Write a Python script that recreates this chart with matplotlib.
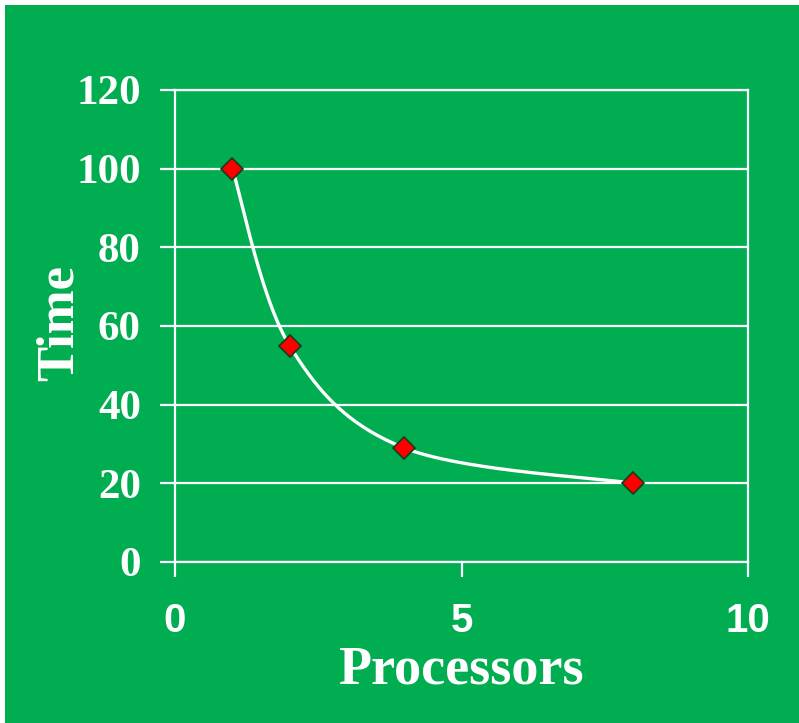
import numpy as np
import matplotlib
matplotlib.use("Agg")
import matplotlib.pyplot as plt

processors = [1, 2, 4, 8]
times = [100, 55, 29, 20]
y_ticks = [0, 20, 40, 60, 80, 100, 120]
x_ticks = [0, 5, 10]

GREEN = "#00AD50"

def excel_smooth(x, y, n=60):
    x = np.asarray(x, float); y = np.asarray(y, float)
    px = np.concatenate([[x[0]], x, [x[-1]]])
    py = np.concatenate([[y[0]], y, [y[-1]]])
    xs, ys = [], []
    t = np.linspace(0, 1, n)
    for i in range(1, len(px) - 2):
        p0 = np.array([px[i], py[i]]); p3 = np.array([px[i+1], py[i+1]])
        p1 = p0 + (np.array([px[i+1], py[i+1]]) - np.array([px[i-1], py[i-1]])) / 6
        p2 = p3 - (np.array([px[i+2], py[i+2]]) - np.array([px[i], py[i]])) / 6
        b = ((1-t)**3)[:, None]*p0 + (3*(1-t)**2*t)[:, None]*p1 + (3*(1-t)*t**2)[:, None]*p2 + (t**3)[:, None]*p3
        xs.extend(b[:, 0]); ys.extend(b[:, 1])
    return np.array(xs), np.array(ys)

fig = plt.figure(figsize=(7.99, 7.23), dpi=100)
fig.patch.set_facecolor("white")
bg = fig.add_axes([5/799, 0, 1 - 5/799, 1 - 5/723])
bg.set_facecolor(GREEN)
bg.set_xticks([]); bg.set_yticks([])
for s in bg.spines.values():
    s.set_visible(False)
bg.set_zorder(0)

ax = fig.add_axes([175/799, 1 - 562/723, (748-175)/799, (562-90)/723])
ax.set_facecolor("none")
ax.set_zorder(1)
ax.set_xlim(0, 10)
ax.set_ylim(0, 120)
ax.set_xticks(x_ticks)
ax.set_yticks(y_ticks)
ax.yaxis.grid(True, color="white", linewidth=1.6)
ax.set_axisbelow(True)
for s in ax.spines.values():
    s.set_color("white"); s.set_linewidth(1.6)
ax.tick_params(axis="both", colors="white", length=10.5, width=1.6, direction="out")
ax.tick_params(axis="y", pad=14)
ax.tick_params(axis="x", pad=18)
for lab in ax.get_yticklabels():
    lab.set_fontfamily("Liberation Serif"); lab.set_fontweight("bold"); lab.set_fontsize(31); lab.set_color("white")
for lab in ax.get_xticklabels():
    lab.set_fontfamily("Liberation Sans"); lab.set_fontweight("bold"); lab.set_fontsize(29); lab.set_color("white")

sx, sy = excel_smooth(processors, times)
ax.plot(sx, sy, color="white", linewidth=2.4, zorder=3, clip_on=False)
ax.plot(processors, times, linestyle="none", marker="D", markersize=11,
        markerfacecolor="#FF0000", markeredgecolor="#1a3a1a", markeredgewidth=1.2, zorder=4, clip_on=False)

ax.set_xlabel("Processors", fontfamily="Liberation Serif", fontweight="bold", fontsize=39, color="white")
ax.set_ylabel("Time", fontfamily="Liberation Serif", fontweight="bold", fontsize=38, color="white")
ax.xaxis.label.set_va("center")
ax.yaxis.label.set_va("center")
ax.xaxis.set_label_coords((461 - 175) / 573, (562 - 671) / 472)
ax.yaxis.set_label_coords((60 - 175) / 573, (562 - 323) / 472)

fig.savefig("out.png", dpi=100, facecolor=fig.get_facecolor())
